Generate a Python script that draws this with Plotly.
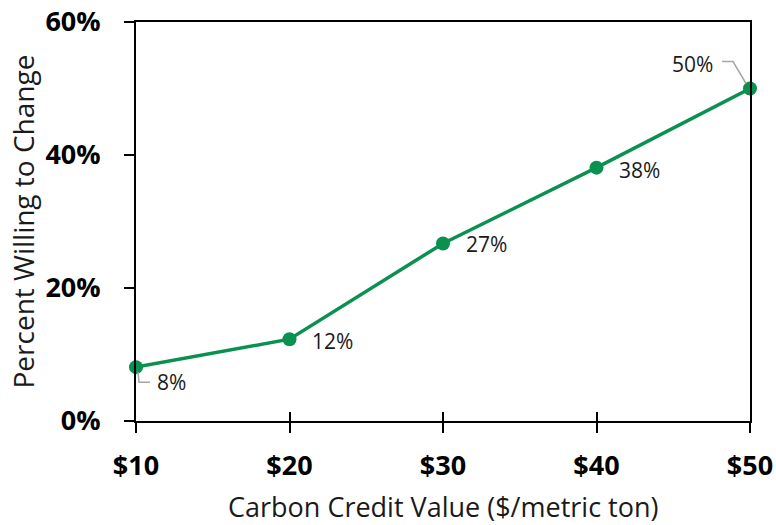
import plotly.graph_objects as go

credit_values = [10, 20, 30, 40, 50]
percent_willing = [8.1, 12.3, 26.7, 38.1, 50.0]
point_labels = ["8%", "12%", "27%", "38%", "50%"]
x_tick_labels = ["$10", "$20", "$30", "$40", "$50"]
y_tick_vals = [0, 20, 40, 60]
y_tick_labels = ["0%", "20%", "40%", "60%"]

GREEN = "#0a9150"
FONT = "Open Sans, Liberation Sans, sans-serif"

fig = go.Figure()
fig.add_trace(go.Scatter(
    x=credit_values, y=percent_willing, mode="lines+markers",
    line=dict(color=GREEN, width=3.5),
    marker=dict(color=GREEN, size=14),
    hoverinfo="skip", showlegend=False, cliponaxis=False,
))

# data labels: (xshift, yshift) per label, plus leader lines for first/last
offsets = [(35, -15), (43, -2), (43, -1), (43, -2), (-58, 25)]
for xv, yv, lab, (dx, dy) in zip(credit_values, percent_willing, point_labels, offsets):
    fig.add_annotation(x=xv, y=yv, text=lab, showarrow=False,
                       xshift=dx, yshift=dy,
                       font=dict(family=FONT, size=21, color="#1a1a1a"))

leaders = {0: "M 2,-5 L 3,-15 L 14,-15", 4: "M -4,5 L -17,27 L -28,27"}
for i, path in leaders.items():
    fig.add_shape(type="path", xref="x", yref="y",
                  xsizemode="pixel", ysizemode="pixel",
                  xanchor=credit_values[i], yanchor=percent_willing[i],
                  path=path, line=dict(color="#a6a6a6", width=1.5))

# axis titles as annotations (fixed pixel placement)
fig.add_annotation(xref="paper", yref="paper", x=0.5, y=0, yshift=-85,
                   text="Carbon Credit Value ($/metric ton)", showarrow=False,
                   yanchor="middle", font=dict(family=FONT, size=27, color="#1a1a1a"))
fig.add_annotation(xref="paper", yref="paper", x=0, y=0.5, xshift=-114,
                   text="Percent Willing to Change", showarrow=False, textangle=-90,
                   xanchor="center", font=dict(family=FONT, size=28, color="#1a1a1a"))

fig.update_layout(
    width=776, height=525,
    margin=dict(l=136, r=26, t=22, b=104, autoexpand=False),
    paper_bgcolor="white", plot_bgcolor="white",
    font=dict(family=FONT, color="black"),
    xaxis=dict(
        range=[10, 50], tickvals=credit_values, ticktext=x_tick_labels,
        tickfont=dict(family=FONT, size=27, weight="bold"),
        showgrid=False, zeroline=False, automargin=False,
        showline=True, linecolor="black", linewidth=2, mirror=True,
        ticks="outside", ticklen=10, tickwidth=1.5, tickcolor="black",
        ticklabelstandoff=10,
    ),
    xaxis2=dict(
        range=[10, 50], tickvals=credit_values, showticklabels=False,
        overlaying="x", matches="x", showgrid=False, zeroline=False,
        ticks="inside", ticklen=9, tickwidth=1.5, tickcolor="black",
        side="bottom", anchor="y", automargin=False,
    ),
    yaxis=dict(
        range=[0, 60], tickvals=y_tick_vals, ticktext=y_tick_labels,
        tickfont=dict(family=FONT, size=27, weight="bold"),
        showgrid=False, zeroline=False, automargin=False,
        showline=True, linecolor="black", linewidth=2, mirror=True,
        ticks="outside", ticklen=10, tickwidth=1.5, tickcolor="black",
        ticklabelstandoff=18,
    ),
)
fig.add_trace(go.Scatter(x=[credit_values[0]], y=[percent_willing[0]], xaxis="x2",
                         mode="markers", marker=dict(opacity=0), showlegend=False,
                         hoverinfo="skip"))

fig.write_html("out.html", config={"displayModeBar": False},
               post_script="document.body.style.margin='0';")
